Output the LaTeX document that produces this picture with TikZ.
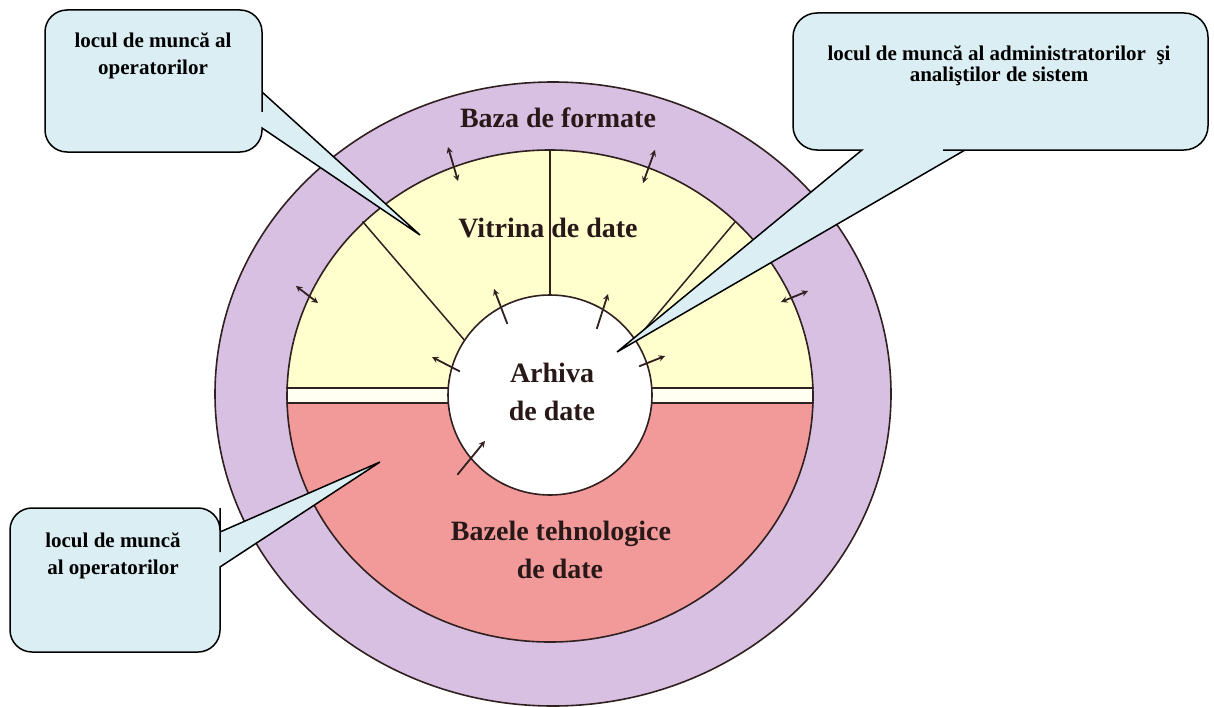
\documentclass[tikz,border=0pt]{standalone}
\usepackage{fontspec}
\setmainfont{Liberation Serif}
\usepackage{tikz}
\usetikzlibrary{arrows}

\begin{document}
\begin{tikzpicture}[x=1pt,y=-1pt,line cap=rect]
					\def\diagfontA#1{{\fontsize{28pt}{28pt}\bfseries\selectfont #1}} % texts in the rings
					\def\diagfontB#1{{\fontsize{21pt}{21pt}\bfseries\selectfont #1}} % texts in the bubbles
					\definecolor{custcol_d8_c0_e2}{RGB}{216, 192, 226}
					\definecolor{custcol_ff_fe_cc}{RGB}{255, 254, 204}
					\definecolor{custcol_f2_9a_9a}{RGB}{242, 154, 154}
					\definecolor{custcol_ff_ff_f2}{RGB}{255, 255, 242}
					\definecolor{custcol_da_ee_f3}{RGB}{218, 238, 243}
					\definecolor{custcol_30_20_20}{RGB}{48, 32, 32}
					\definecolor{custcol_28_18_18}{RGB}{40, 24, 24}
					\definecolor{custcol_0_0_0}{RGB}{0, 0, 0}
					\useasboundingbox (0.0,0.0) rectangle (1214.0,706.0);
					\fill [custcol_d8_c0_e2]  (553.0,394.0) ellipse (338.0 and 312.0 );
					\draw [line width=1.6pt, custcol_30_20_20]  (553.0,394.0) ellipse (338.0 and 312.0 );
					\fill [custcol_ff_ff_f2]  (550.0,396.0) ellipse (263.0 and 246.0 );
					\begin{scope}
						\clip (280.0,140.0) rectangle (820.0,388.0);
						\fill [custcol_ff_fe_cc]  (550.0,396.0) ellipse (263.0 and 246.0 );
					\end{scope}
					\begin{scope}
						\clip (280.0,403.0) rectangle (820.0,650.0);
						\fill [custcol_f2_9a_9a]  (550.0,396.0) ellipse (263.0 and 246.0 );
					\end{scope}
					\draw [line width=1.5pt, custcol_30_20_20 ]  (550.0,150.0) -- (550.0,300.0) ;
					\draw [line width=1.5pt, custcol_30_20_20 ]  (363.0,222.0) -- (466.0,342.0) ;
					\draw [line width=1.5pt, custcol_30_20_20 ]  (735.0,222.0) -- (634.0,342.0) ;
					\draw [line width=1.6pt, custcol_30_20_20 ]  (287.0,388.0) -- (460.0,388.0) ;
					\draw [line width=1.6pt, custcol_30_20_20 ]  (640.0,388.0) -- (813.0,388.0) ;
					\draw [line width=1.6pt, custcol_30_20_20 ]  (287.0,403.0) -- (460.0,403.0) ;
					\draw [line width=1.6pt, custcol_30_20_20 ]  (640.0,403.0) -- (813.0,403.0) ;
					\draw [line width=1.6pt, custcol_30_20_20]  (550.0,396.0) ellipse (263.0 and 246.0 );
					\fill [white]  (550.0,395.0) ellipse (102.0 and 100.0 );
					\draw [line width=1.6pt, custcol_30_20_20]  (550.0,395.0) ellipse (102.0 and 100.0 );
					\draw [line width=1.8pt, custcol_30_20_20, stealth-stealth ]  (458.0,181.0) -- (448.0,147.0) ;
					\draw [line width=1.8pt, custcol_30_20_20, stealth-stealth ]  (643.0,183.0) -- (655.0,150.0) ;
					\draw [line width=1.8pt, custcol_30_20_20, stealth-stealth ]  (318.0,303.0) -- (296.0,286.0) ;
					\draw [line width=1.8pt, custcol_30_20_20, stealth-stealth ]  (781.0,302.0) -- (808.0,291.0) ;
					\draw [line width=1.8pt, custcol_30_20_20, -stealth ]  (507.0,323.0) -- (494.0,289.0) ;
					\draw [line width=1.8pt, custcol_30_20_20, -stealth ]  (597.0,328.0) -- (608.0,294.0) ;
					\draw [line width=1.8pt, custcol_30_20_20, -stealth ]  (459.0,371.0) -- (432.0,357.0) ;
					\draw [line width=1.8pt, custcol_30_20_20, -stealth ]  (640.0,366.0) -- (665.0,356.0) ;
					\draw [line width=1.8pt, custcol_30_20_20, -stealth ]  (458.0,474.0) -- (485.0,441.0) ;
					\diagfontA{\node[inner sep=0, outer sep=0, custcol_28_18_18, anchor=base] (bazaformate) at  (558.0,128.0)  {Baza de formate};}
					\diagfontA{\node[inner sep=0, outer sep=0, custcol_28_18_18, anchor=base] (vitrina) at  (548.0,237.0)  {Vitrina de date};}
					\diagfontA{\node[inner sep=0, outer sep=0, custcol_28_18_18, anchor=base] (arhiva1) at  (552.0,382.0)  {Arhiva};}
					\diagfontA{\node[inner sep=0, outer sep=0, custcol_28_18_18, anchor=base] (arhiva2) at  (552.0,420.0)  {de date};}
					\diagfontA{\node[inner sep=0, outer sep=0, custcol_28_18_18, anchor=base] (bazele1) at  (561.0,540.0)  {Bazele tehnologice};}
					\diagfontA{\node[inner sep=0, outer sep=0, custcol_28_18_18, anchor=base] (bazele2) at  (560.0,578.0)  {de date};}
					\coordinate (tipvitrina) at (420.0,235.0);
					\coordinate (tiparhiva) at (617.0,352.0);
					\coordinate (tipbazele) at (380.0,462.0);
					\draw [line width=1.5pt, custcol_0_0_0, fill=custcol_da_ee_f3]  (150.0,10.0) [rounded corners=22pt] -- (262.0,10.0) -- (262.0,90.0) [sharp corners] -- (262.0,92.0) -- (tipvitrina) -- (262.0,128.0) -- (262.0,130.0) [rounded corners=22pt] -- (262.0,152.0) -- (45.0,152.0) -- (45.0,10.0) -- cycle;
					\draw [line width=1.5pt, custcol_0_0_0, fill=custcol_da_ee_f3]  (1000.0,13.0) [rounded corners=24pt] -- (1208.0,13.0) -- (1208.0,150.0) -- (967.0,150.0) [sharp corners] -- (965.0,150.0) -- (tiparhiva) -- (862.0,150.0) -- (860.0,150.0) [rounded corners=24pt] -- (793.0,150.0) -- (793.0,13.0) -- cycle;
					\draw [line width=1.5pt, custcol_0_0_0, fill=custcol_da_ee_f3]  (115.0,508.0) [rounded corners=22pt] -- (220.0,508.0) -- (220.0,530.0) [sharp corners] -- (220.0,532.0) -- (tipbazele) -- (220.0,567.0) -- (220.0,569.0) [rounded corners=22pt] -- (220.0,652.0) -- (10.0,652.0) -- (10.0,508.0) -- cycle;
					\diagfontB{\node[inner sep=0, outer sep=0, custcol_0_0_0, anchor=base] (operatoriA1) at  (153.0,48.0)  {locul de muncă al};}
					\diagfontB{\node[inner sep=0, outer sep=0, custcol_0_0_0, anchor=base] (operatoriA2) at  (153.0,75.0)  {operatorilor};}
					\diagfontB{\node[inner sep=0, outer sep=0, custcol_0_0_0, anchor=base] (admin1) at  (999.0,61.0)  {locul de muncă al administratorilor\ \ şi};}
					\diagfontB{\node[inner sep=0, outer sep=0, custcol_0_0_0, anchor=base] (admin2) at  (999.0,82.0)  {analiştilor de sistem};}
					\diagfontB{\node[inner sep=0, outer sep=0, custcol_0_0_0, anchor=base] (operatoriB1) at  (113.0,547.0)  {locul de muncă};}
					\diagfontB{\node[inner sep=0, outer sep=0, custcol_0_0_0, anchor=base] (operatoriB2) at  (113.0,574.0)  {al operatorilor};}
				\end{tikzpicture}
\end{document}
